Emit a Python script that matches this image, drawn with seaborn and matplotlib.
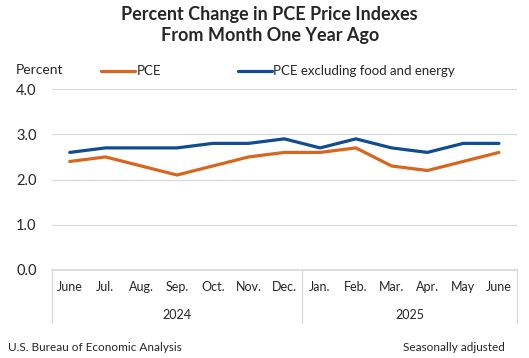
import pandas as pd
import seaborn as sns
import matplotlib.pyplot as plt

# --- data ---
months = ["June", "Jul.", "Aug.", "Sep.", "Oct.", "Nov.", "Dec.",
          "Jan.", "Feb.", "Mar.", "Apr.", "May", "June"]
years = ["2024", "2025"]
pce = [2.4, 2.5, 2.3, 2.1, 2.3, 2.5, 2.6, 2.6, 2.7, 2.3, 2.2, 2.4, 2.6]
core = [2.6, 2.7, 2.7, 2.7, 2.8, 2.8, 2.9, 2.7, 2.9, 2.7, 2.6, 2.8, 2.8]
series_names = ["PCE", "PCE excluding food and energy"]
colors = ["#D9661F", "#0F4C92"]

df = pd.DataFrame({
    "idx": list(range(len(months))) * 2,
    "value": pce + core,
    "series": [series_names[0]] * len(pce) + [series_names[1]] * len(core),
})

sns.set_theme(style="white")
plt.rcParams["font.family"] = ["Lato", "DejaVu Sans"]

fig = plt.figure(figsize=(5.29, 3.58), dpi=100)
ax = fig.add_axes([0.098, 0.246, 0.879, 0.505])

sns.lineplot(data=df, x="idx", y="value", hue="series", palette=colors,
             linewidth=2.3, ax=ax, legend=True)

ax.set_xlim(-0.5, len(months) - 0.5)
ax.set_ylim(0, 4)
ax.set_yticks([0, 1, 2, 3, 4])
ax.set_yticklabels([f"{v:.1f}" for v in [0, 1, 2, 3, 4]], fontsize=10.5)
ax.yaxis.grid(True, color="#d9d9d9", linewidth=0.9)
ax.set_axisbelow(True)
for s in ["top", "right", "left"]:
    ax.spines[s].set_visible(False)
ax.spines["bottom"].set_color("#d9d9d9")
ax.tick_params(axis="y", length=0, pad=11)
ax.set_xticks(range(len(months)))
ax.set_xticklabels(months, fontsize=9)
ax.tick_params(axis="x", length=0, pad=8)
ax.set_xlabel("")
ax.set_ylabel("")

# category box with year groups
for xv in [-0.5, 6.5, 12.5]:
    ax.plot([xv, xv], [0, -0.293], transform=ax.get_xaxis_transform(),
            color="#d9d9d9", linewidth=0.9, clip_on=False)
ax.text(3, -0.25, years[0], transform=ax.get_xaxis_transform(),
        ha="center", va="center", fontsize=9)
ax.text(9.5, -0.25, years[1], transform=ax.get_xaxis_transform(),
        ha="center", va="center", fontsize=9)

leg = ax.legend(loc="lower left", bbox_to_anchor=(0.08, 1.0), ncol=2,
                frameon=False, handlelength=2.6, handletextpad=0.1,
                columnspacing=5.8, fontsize=9.5)

fig.text(0.51, 0.93, "Percent Change in PCE Price Indexes\nFrom Month One Year Ago",
         ha="center", va="center", fontsize=13, fontweight="bold",
         linespacing=1.25)
fig.text(0.03, 0.805, "Percent", ha="left", va="center", fontsize=10)
fig.text(0.015, 0.03, "U.S. Bureau of Economic Analysis", ha="left",
         va="center", fontsize=8.5)
fig.text(0.955, 0.03, "Seasonally adjusted", ha="right", va="center",
         fontsize=8.5)

fig.savefig("out.png", dpi=100)
